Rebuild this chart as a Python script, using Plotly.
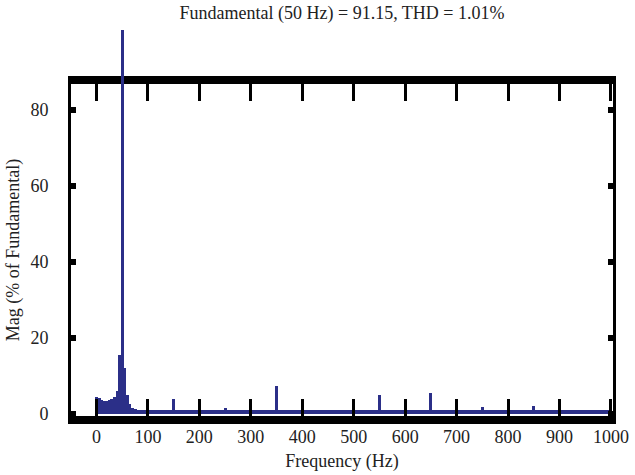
import plotly.graph_objects as go

# Frequency bins (Hz), 5 Hz resolution, 0..1000
freqs = list(range(0, 1005, 5))

# Low-frequency region around the fundamental (0..80 Hz)
low_freqs = [0, 5, 10, 15, 20, 25, 30, 35, 40, 45, 50, 55, 60, 65, 70, 75, 80]
low_mags = [4.6, 4.2, 3.8, 3.4, 3.3, 3.6, 4.0, 4.5, 6.0, 15.5, 101.0, 12.0, 5.0, 2.5, 1.6, 1.2, 1.0]

# Harmonic components
harm_freqs = [150, 250, 350, 550, 650, 750, 850]
harm_mags = [4.0, 1.7, 7.4, 5.0, 5.6, 1.8, 2.1]

# Residual floor level of the remaining bins
floor_mag = 1.0

mags = []
for f in freqs:
    if f in low_freqs:
        mags.append(low_mags[low_freqs.index(f)])
    elif f in harm_freqs:
        mags.append(harm_mags[harm_freqs.index(f)])
    else:
        mags.append(floor_mag)

x_ticks = [0, 100, 200, 300, 400, 500, 600, 700, 800, 900, 1000]
y_ticks = [0, 20, 40, 60, 80]

title_text = "Fundamental (50 Hz) = 91.15, THD = 1.01%"
FONT = "Liberation Serif"
BLUE = "#2b2f88"

X_RANGE = [-49.5, 1004]
Y_RANGE = [-0.53, 86.8]

# layout geometry (pixels)
W, H = 635, 475
L, R, T, B = 71, 22, 20, 59
frame_top_px = 84
plot_h = H - T - B
main_frac = (H - B - frame_top_px) / plot_h
y2_top = Y_RANGE[0] + (Y_RANGE[1] - Y_RANGE[0]) / main_frac

y_limit = Y_RANGE[1]
main_y = [m if m <= y_limit else None for m in mags]
over_y = [m if m > y_limit else None for m in mags]

fig = go.Figure()
fig.add_trace(go.Bar(
    x=freqs, y=main_y, width=6,
    marker=dict(color=BLUE, line=dict(width=0)),
    showlegend=False, xaxis="x", yaxis="y",
))
fig.add_trace(go.Bar(
    x=freqs, y=over_y, width=6,
    marker=dict(color=BLUE, line=dict(width=0)),
    showlegend=False, xaxis="x2", yaxis="y2",
))

fig.update_layout(
    template="none",
    width=W, height=H,
    margin=dict(l=L, r=R, t=T, b=B, autoexpand=False),
    paper_bgcolor="white", plot_bgcolor="rgba(0,0,0,0)",
    font=dict(family=FONT, size=18, color="#222"),
    bargap=0,
    title=dict(text=title_text, x=0.5, xref="paper", xanchor="center",
               y=1 - 6 / H, yref="container", yanchor="top",
               font=dict(family=FONT, size=18, color="#222")),
    xaxis=dict(
        range=X_RANGE, tickvals=x_ticks, ticktext=[str(v) for v in x_ticks],
        showgrid=False, zeroline=False,
        showline=True, linecolor="black", linewidth=8, mirror="ticks",
        ticks="inside", ticklen=17, tickwidth=3, tickcolor="black",
        ticklabelstandoff=-3, automargin=False, ticklabeloverflow="allow",
        title=dict(text="Frequency (Hz)", standoff=12, font=dict(family=FONT, size=18)),
    ),
    yaxis=dict(
        domain=[0, main_frac],
        range=Y_RANGE, tickvals=y_ticks, ticktext=[str(v) for v in y_ticks],
        showgrid=False, zeroline=False,
        showline=True, linecolor="black", linewidth=3, mirror="ticks",
        ticks="inside", ticklen=5, tickwidth=6, tickcolor="black",
        ticklabelstandoff=16, automargin=False,
        title=dict(text="Mag (% of Fundamental)", standoff=7, font=dict(family=FONT, size=18)),
    ),
    xaxis2=dict(range=X_RANGE, anchor="y2", visible=False, domain=[0, 1]),
    yaxis2=dict(range=[Y_RANGE[0], y2_top], anchor="x2", visible=False, domain=[0, 1]),
)

fig.write_html("out.html", config={"displayModeBar": False},
               post_script="document.body.style.margin='0';")
